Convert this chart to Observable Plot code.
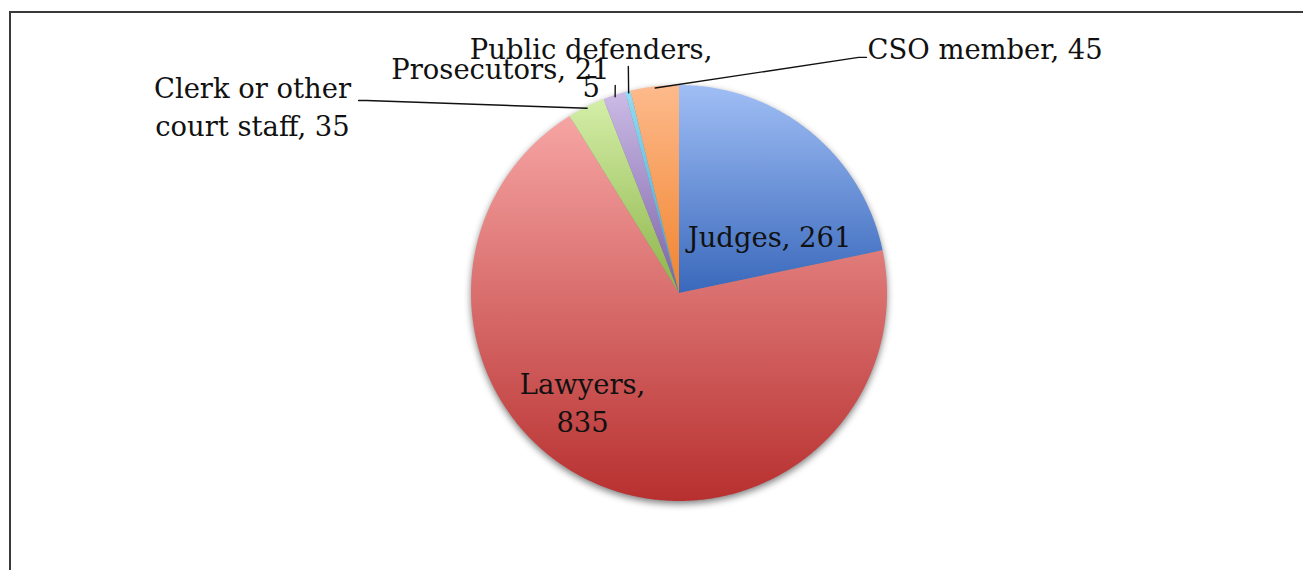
<!DOCTYPE html>
<html><head><meta charset="utf-8">
<script src="https://cdn.jsdelivr.net/npm/d3@7"></script>
<script src="https://cdn.jsdelivr.net/npm/@observablehq/plot@0.6"></script>
<style>
html,body{margin:0;padding:0;background:#fff;overflow:hidden;}
#wrap{position:relative;width:1303px;height:570px;overflow:hidden;}
#chart{position:absolute;left:0;top:0;}
#border{position:absolute;left:9px;top:11px;width:1400px;height:700px;border-left:2px solid #3a3a3a;border-top:2px solid #3a3a3a;pointer-events:none;}
</style></head><body>
<div id="wrap"><div id="chart"></div><div id="border"></div></div>
<script>
// ---- data ----
const categories = ["Judges", "Lawyers", "Clerk or other court staff", "Prosecutors", "Public defenders", "CSO member"];
const values = [261, 835, 35, 21, 5, 45];
const labelTexts = ["Judges, 261", "Lawyers,\n835", "Clerk or other\ncourt staff, 35", "Prosecutors, 21", "Public defenders,\n5", "CSO member, 45"];
// gradient colours (top -> bottom of each slice)
const colorsTop = ["#a0bef5", "#f6a5a4", "#d4eea8", "#cbbbe5", "#95daf2", "#fdba8c"];
const colorsBottom = ["#3968bb", "#b7302f", "#8cb448", "#7b61a7", "#39a5cd", "#f1832d"];
// label layout, in pie-radius units (x right, y up; y = baseline of last line)
const labelX = [0.433, -0.466, -2.053, -0.861, -0.425, 0.904];
const labelY = [0.223, -0.668, 0.755, 1.032, 0.944, 1.128];
const labelAnchor = ["middle", "middle", "middle", "middle", "middle", "start"];
// leader line bend points (text side first), slice end computed from the slice mid angle
const leaderX = [[], [], [-1.543, -1.505], [-0.309], [-0.246], [0.899, 0.861]];
const leaderY = [[], [], [0.928, 0.928], [1.0], [1.091], [1.135, 1.135]];

// ---- geometry from values ----
const arcs = d3.pie().sort(null).startAngle(0).endAngle(2 * Math.PI)(values);
function arcPoints(a0, a1) {
  const n = Math.max(2, Math.ceil((a1 - a0) / (Math.PI / 360)));
  return d3.range(n + 1).map(k => {
    const t = a0 + (a1 - a0) * k / n;
    return {x: Math.sin(t), y: Math.cos(t)};
  });
}
const slices = arcs.map(a => arcPoints(a.startAngle, a.endAngle));
const circlePts = arcPoints(0, 2 * Math.PI);

const leaders = [];
arcs.forEach((a, i) => {
  if (!leaderX[i].length) return;
  const mid = (a.startAngle + a.endAngle) / 2;
  const pts = leaderX[i].map((x, k) => ({x, y: leaderY[i][k], id: i}));
  pts.push({x: 0.995 * Math.sin(mid), y: 0.995 * Math.cos(mid), id: i});
  leaders.push(...pts);
});
const labels = labelTexts.map((t, i) => ({text: t, x: labelX[i], y: labelY[i], anchor: labelAnchor[i]}));

const font = {fontFamily: "DejaVu Serif", fontSize: 27.4, fill: "#111", lineHeight: 1.39, lineAnchor: "bottom"};

// a wedge: arc as the top line, pie centre as the baseline
const wedge = (pts, opts) => Plot.area(pts, {x1: "x", y1: "y", x2: 0, y2: 0, stroke: "none", ...opts});

const svg = Plot.plot({
  width: 1303,
  height: 570,
  x: {domain: [-1, 1], range: [471, 887], axis: null},
  y: {domain: [-1, 1], range: [501, 85], axis: null},
  marks: [
    wedge(circlePts, {fill: "#000", fillOpacity: 0.5, dy: 3}),
    ...slices.map((pts, i) => wedge(pts, {fill: `url(#grad${i})`})),
    Plot.line(leaders, {x: "x", y: "y", z: "id", stroke: "#111", strokeWidth: 1.4}),
    Plot.text(labels.filter(d => d.anchor === "middle"), {x: "x", y: "y", text: "text", textAnchor: "middle", ...font}),
    Plot.text(labels.filter(d => d.anchor === "start"), {x: "x", y: "y", text: "text", textAnchor: "start", ...font})
  ]
});

const defs = d3.select(svg).insert("defs", ":first-child");
categories.forEach((c, i) => {
  const g = defs.append("linearGradient").attr("id", `grad${i}`)
    .attr("x1", 0).attr("y1", 0).attr("x2", 0).attr("y2", 1);
  g.append("stop").attr("offset", "0%").attr("stop-color", colorsTop[i]);
  g.append("stop").attr("offset", "100%").attr("stop-color", colorsBottom[i]);
});
const f = defs.append("filter").attr("id", "blur").attr("x", "-10%").attr("y", "-10%").attr("width", "120%").attr("height", "120%");
f.append("feGaussianBlur").attr("stdDeviation", 3.5);
// first area mark is the shadow
const shadowG = svg.querySelector('g[aria-label="area"]');
if (shadowG) shadowG.setAttribute("filter", "url(#blur)");

document.getElementById("chart").appendChild(svg);
</script>
</body></html>
